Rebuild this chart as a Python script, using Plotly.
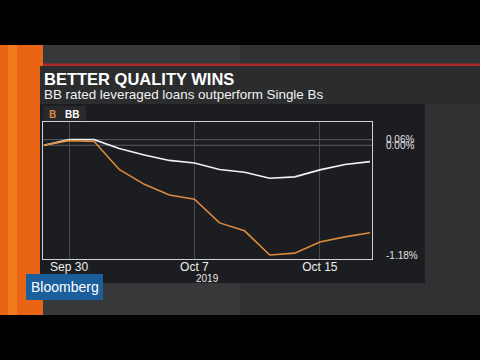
import plotly.graph_objects as go

# ---- data ----
dates = ["2019-09-27", "2019-09-30", "2019-10-01", "2019-10-02", "2019-10-03",
         "2019-10-04", "2019-10-07", "2019-10-08", "2019-10-09", "2019-10-10",
         "2019-10-11", "2019-10-15", "2019-10-16", "2019-10-17"]
b_vals = [0.00, 0.05, 0.04, -0.26, -0.42, -0.535, -0.58, -0.835, -0.92, -1.18,
          -1.16, -1.04, -0.985, -0.94]
bb_vals = [0.00, 0.06, 0.06, -0.034, -0.104, -0.163, -0.19, -0.26, -0.29, -0.355,
           -0.34, -0.265, -0.207, -0.176]
x_tick_dates = ["2019-09-30", "2019-10-07", "2019-10-15"]
x_tick_text = ["Sep 30", "Oct 7", "Oct 15"]
y_tick_vals = [0.06, 0.00, -1.18]
y_tick_text = ["0.06%", "0.00%", "-1.18%"]
grid_vals = [0.06, 0.00]
title = "BETTER QUALITY WINS"
subtitle = "BB rated leveraged loans outperform Single Bs"

FONT = "Liberation Sans, Arial, sans-serif"
W, H = 480, 360
L, R, T, B = 43, 372, 122, 259


def px(x):
    return (x - L) / (R - L)


def py(y):
    return (B - y) / (B - T)


def rect(x0, y0, x1, y1, color):
    return dict(type="rect", xref="paper", yref="paper", layer="below",
                x0=px(x0), x1=px(x1), y0=py(y1), y1=py(y0),
                fillcolor=color, line=dict(width=0))


fig = go.Figure()
fig.add_trace(go.Scatter(x=dates, y=bb_vals, mode="lines", name="BB",
                         line=dict(color="#f2f2f2", width=1.6)))
fig.add_trace(go.Scatter(x=dates, y=b_vals, mode="lines", name="B",
                         line=dict(color="#dc8a3e", width=1.6)))

shapes = [
    rect(0, 45, 480, 315, "#303133"),
    rect(43, 45, 240, 315, "#37383a"),
    rect(0, 45, 43, 315, "#ea6416"),
    rect(8, 45, 17, 315, "#f07a1e"),
    rect(43, 63.5, 480, 66, "#a82a2a"),
    rect(40, 66, 480, 104, "#2b2c2e"),
    rect(40, 104, 425, 283, "#1c1d20"),
    rect(43, 106, 86, 121, "#28292b"),
    rect(26, 274, 103, 300, "#1b5e9c"),
]
for gv in grid_vals:
    shapes.append(dict(type="line", xref="paper", yref="y", layer="below",
                       x0=0, x1=1, y0=gv, y1=gv,
                       line=dict(color="#5c5d60", width=1)))

annotations = [
    dict(text="<b>" + title + "</b>", x=px(42), y=py(79), xref="paper", yref="paper",
         xanchor="left", yanchor="middle", showarrow=False,
         font=dict(family=FONT, size=16.5, color="#ffffff")),
    dict(text=subtitle, x=px(42), y=py(94.5), xref="paper", yref="paper",
         xanchor="left", yanchor="middle", showarrow=False,
         font=dict(family=FONT, size=13.4, color="#f2f2f2")),
    dict(text="<b>B</b>", x=px(47), y=py(114), xref="paper", yref="paper",
         xanchor="left", yanchor="middle", showarrow=False,
         font=dict(family=FONT, size=10, color="#dc8a3e")),
    dict(text="<b>BB</b>", x=px(63), y=py(114), xref="paper", yref="paper",
         xanchor="left", yanchor="middle", showarrow=False,
         font=dict(family=FONT, size=10, color="#ffffff")),
    dict(text="2019", x=px(207), y=py(278.5), xref="paper", yref="paper",
         xanchor="center", yanchor="middle", showarrow=False,
         font=dict(family=FONT, size=10, color="#e6e6e6")),
    dict(text="Bloomberg", x=px(64.5), y=py(287), xref="paper", yref="paper",
         xanchor="center", yanchor="middle", showarrow=False,
         font=dict(family=FONT, size=14, color="#ffffff")),
]

fig.update_layout(
    width=W, height=H, autosize=False,
    margin=dict(l=L, r=W - R, t=T, b=H - B, pad=0),
    paper_bgcolor="#000000", plot_bgcolor="rgba(0,0,0,0)",
    showlegend=False,
    shapes=shapes, annotations=annotations,
    font=dict(family=FONT, color="#e8e8e8"),
)
fig.update_xaxes(type="category", range=[-0.04, 13.08],
                 tickvals=x_tick_dates, ticktext=x_tick_text,
                 showgrid=True, gridcolor="#4a4b4e", gridwidth=1,
                 showline=True, mirror=True, linecolor="#d0d0d0", linewidth=1,
                 ticks="", tickfont=dict(family=FONT, size=12, color="#eeeeee"),
                 ticklabelstandoff=-3, zeroline=False)
fig.update_yaxes(range=[-1.223, 0.25], side="right",
                 tickvals=y_tick_vals, ticktext=y_tick_text,
                 showgrid=False, zeroline=False,
                 showline=True, mirror=True, linecolor="#d0d0d0", linewidth=1,
                 ticks="", tickfont=dict(family=FONT, size=10, color="#e0e0e0"),
                 ticklabelstandoff=11)

fig.write_html("out.html",
               config={"displayModeBar": False},
               post_script="document.body.style.margin='0';"
                           "document.body.style.overflow='hidden';")
